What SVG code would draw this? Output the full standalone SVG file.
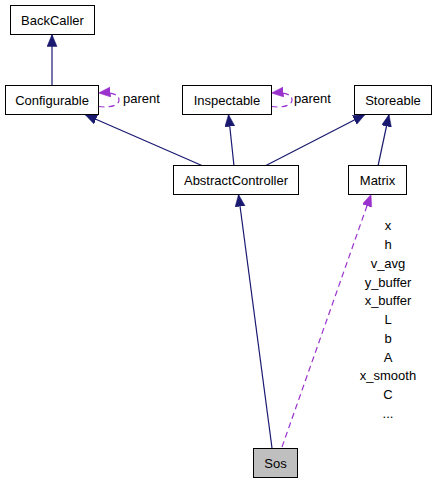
<svg xmlns="http://www.w3.org/2000/svg" width="435" height="483" viewBox="0 0 435 483">
<style>
  .box { fill: #ffffff; stroke: #000000; stroke-width: 1; }
  .cur { fill: #bfbfbf; stroke: #000000; stroke-width: 1; }
  text { font-family: "Liberation Sans", Arial, sans-serif; font-size: 13px; fill: #000000; }
  .c { text-anchor: middle; }
  .inh { fill: none; stroke: #191970; stroke-width: 1.2; }
  .use { fill: none; stroke: #9a32cd; stroke-width: 1.2; stroke-dasharray: 6,4; }
</style>
<defs>
  <marker id="ab" markerUnits="userSpaceOnUse" markerWidth="13" markerHeight="11" refX="12" refY="5" orient="auto">
    <path d="M0,0 L12,5 L0,10 z" fill="#191970" stroke="#191970" stroke-width="0.5"/>
  </marker>
  <marker id="ap" markerUnits="userSpaceOnUse" markerWidth="13" markerHeight="11" refX="12" refY="5" orient="auto">
    <path d="M0,0 L12,5 L0,10 z" fill="#9a32cd" stroke="#9a32cd" stroke-width="0.5"/>
  </marker>
</defs>
<rect width="435" height="483" fill="#ffffff"/>
<g id="connectors">
  <path class="inh" d="M52,85 L52,34.5" marker-end="url(#ab)"/>
  <path class="inh" d="M203,166 L85,114.5" marker-end="url(#ab)"/>
  <path class="inh" d="M234,166 L228.5,114.5" marker-end="url(#ab)"/>
  <path class="inh" d="M265,166 L365,114.5" marker-end="url(#ab)"/>
  <path class="inh" d="M378,166 L389,114.5" marker-end="url(#ab)"/>
  <path class="inh" d="M272,448 L238.5,194.5" marker-end="url(#ab)"/>
  <path class="use" d="M282,447 L371,194.5" marker-end="url(#ap)"/>
  <path class="use" d="M98.5,106.5 C108,108 119,106 119,100 C119,94 111,92 98.5,93" marker-end="url(#ap)"/>
  <path class="use" d="M271.5,106.5 C281,108 292,106 292,100 C292,94 284,92 271.5,93" marker-end="url(#ap)"/>
  <text x="123" y="103">parent</text>
  <text x="294" y="103">parent</text>
  <text class="c" x="388" y="230.25">x</text>
  <text class="c" x="388" y="249">h</text>
  <text class="c" x="388" y="267.75">v_avg</text>
  <text class="c" x="388" y="286.5">y_buffer</text>
  <text class="c" x="388" y="305.25">x_buffer</text>
  <text class="c" x="388" y="324">L</text>
  <text class="c" x="388" y="342.75">b</text>
  <text class="c" x="388" y="361.5">A</text>
  <text class="c" x="388" y="380.25">x_smooth</text>
  <text class="c" x="388" y="399">C</text>
  <text class="c" x="388" y="417.75">...</text>
</g>
<g id="BackCaller">
  <rect class="box" x="10.5" y="5.5" width="84" height="29"/>
  <text class="c" x="52.5" y="24.5">BackCaller</text>
</g>
<g id="Configurable">
  <rect class="box" x="5.5" y="85.5" width="93" height="29"/>
  <text class="c" x="52" y="104.5">Configurable</text>
</g>
<g id="Inspectable">
  <rect class="box" x="182.5" y="85.5" width="89" height="29"/>
  <text class="c" x="227" y="104.5">Inspectable</text>
</g>
<g id="Storeable">
  <rect class="box" x="354.5" y="85.5" width="77" height="29"/>
  <text class="c" x="393" y="104.5">Storeable</text>
</g>
<g id="AbstractController">
  <rect class="box" x="173.5" y="165.5" width="125" height="29"/>
  <text class="c" x="236" y="184.5">AbstractController</text>
</g>
<g id="Matrix">
  <rect class="box" x="348.5" y="165.5" width="58" height="29"/>
  <text class="c" x="377.5" y="184.5">Matrix</text>
</g>
<g id="Sos">
  <rect class="cur" x="253.5" y="448.5" width="44" height="29"/>
  <text class="c" x="275.5" y="467.5">Sos</text>
</g>
</svg>
